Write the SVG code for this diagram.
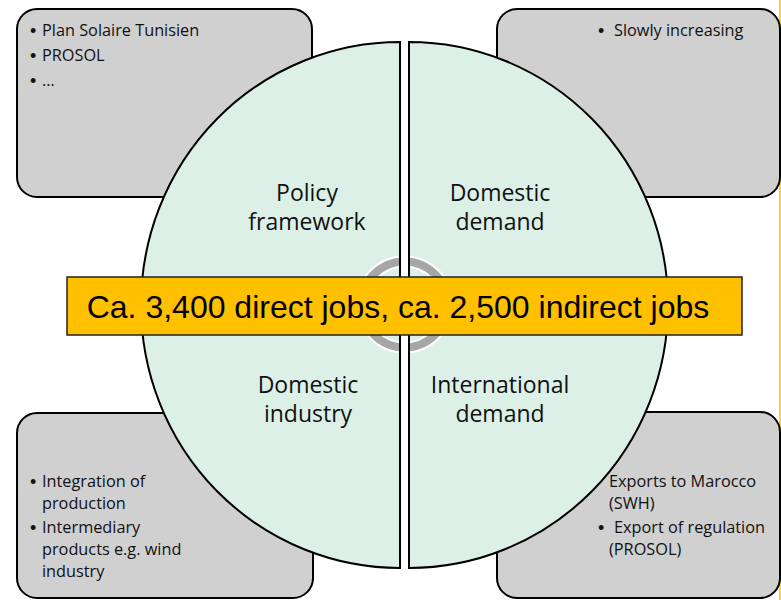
<svg xmlns="http://www.w3.org/2000/svg" width="781" height="600" viewBox="0 0 781 600">
<style>
.box{fill:#D0D0D0;stroke:#000;stroke-width:2}
.half{fill:#DCF0E8;stroke:#000;stroke-width:2}
.lbl{font-family:"Open Sans","Liberation Sans",sans-serif;font-size:23px;fill:#111;text-anchor:middle}
.sm{font-family:"Open Sans","Liberation Sans",sans-serif;font-size:16.3px;fill:#111}
.bul{font-family:"Liberation Sans",sans-serif;font-size:18px;fill:#111}
.ban{font-family:"Liberation Sans",Arial,sans-serif;font-size:32px;fill:#000;text-anchor:middle}
</style>
<rect width="781" height="600" fill="#fff"/>
<line x1="780" y1="0" x2="780" y2="600" stroke="#FFC000" stroke-width="1.5"/>
<g id="box-policy">
<rect class="box" x="17" y="9" width="295" height="188" rx="20"/>
<text class="bul" x="30" y="37">•</text>
<text class="sm" x="42" y="36">Plan Solaire Tunisien</text>
<text class="bul" x="30" y="62">•</text>
<text class="sm" x="42" y="61">PROSOL</text>
<text class="bul" x="30" y="87">•</text>
<text class="sm" x="42" y="86">…</text>
</g>
<g id="box-domestic-demand">
<rect class="box" x="497" y="9" width="283" height="188" rx="20"/>
<text class="bul" x="598" y="37">•</text>
<text class="sm" x="614" y="36">Slowly increasing</text>
</g>
<g id="box-industry">
<rect class="box" x="17" y="413" width="296" height="185" rx="20"/>
<text class="bul" x="30" y="488">•</text>
<text class="sm" x="42" y="487">Integration of</text>
<text class="sm" x="42" y="509">production</text>
<text class="bul" x="30" y="534">•</text>
<text class="sm" x="42" y="533">Intermediary</text>
<text class="sm" x="42" y="555">products e.g. wind</text>
<text class="sm" x="42" y="577">industry</text>
</g>
<g id="box-international">
<rect class="box" x="497" y="412" width="283" height="186" rx="20"/>
<text class="sm" x="609" y="487">Exports to Marocco</text>
<text class="sm" x="609" y="509">(SWH)</text>
<text class="bul" x="598" y="534">•</text>
<text class="sm" x="614" y="533">Export of regulation</text>
<text class="sm" x="609" y="555">(PROSOL)</text>
</g>
<g id="circle-left">
<path class="half" d="M400,42 A259,263 0 0 0 400,568 Z"/>
<text class="lbl" x="307" y="201">Policy</text>
<text class="lbl" x="307" y="230">framework</text>
<text class="lbl" x="308" y="393">Domestic</text>
<text class="lbl" x="308" y="422">industry</text>
</g>
<g id="circle-right">
<path class="half" d="M409,42 A259,263 0 0 1 409,568 Z"/>
<text class="lbl" x="500" y="201">Domestic</text>
<text class="lbl" x="500" y="230">demand</text>
<text class="lbl" x="500" y="393">International</text>
<text class="lbl" x="500" y="422">demand</text>
</g>
<g id="connectors">
<circle cx="404.5" cy="304.5" r="43" fill="none" stroke="#fff" stroke-width="12"/>
<circle cx="404.5" cy="304.5" r="43" fill="none" stroke="#A6A6A6" stroke-width="8"/>
<rect x="400" y="252" width="9" height="106" fill="#fff"/>
<line x1="400" y1="252" x2="400" y2="358" stroke="#000" stroke-width="2"/>
<line x1="409" y1="252" x2="409" y2="358" stroke="#000" stroke-width="2"/>
</g>
<g id="banner">
<rect x="67" y="277" width="675" height="58" fill="#FFC000" stroke="#222" stroke-width="1.5"/>
<text class="ban" x="398" y="318">Ca. 3,400 direct jobs, ca. 2,500 indirect jobs</text>
</g>
</svg>
